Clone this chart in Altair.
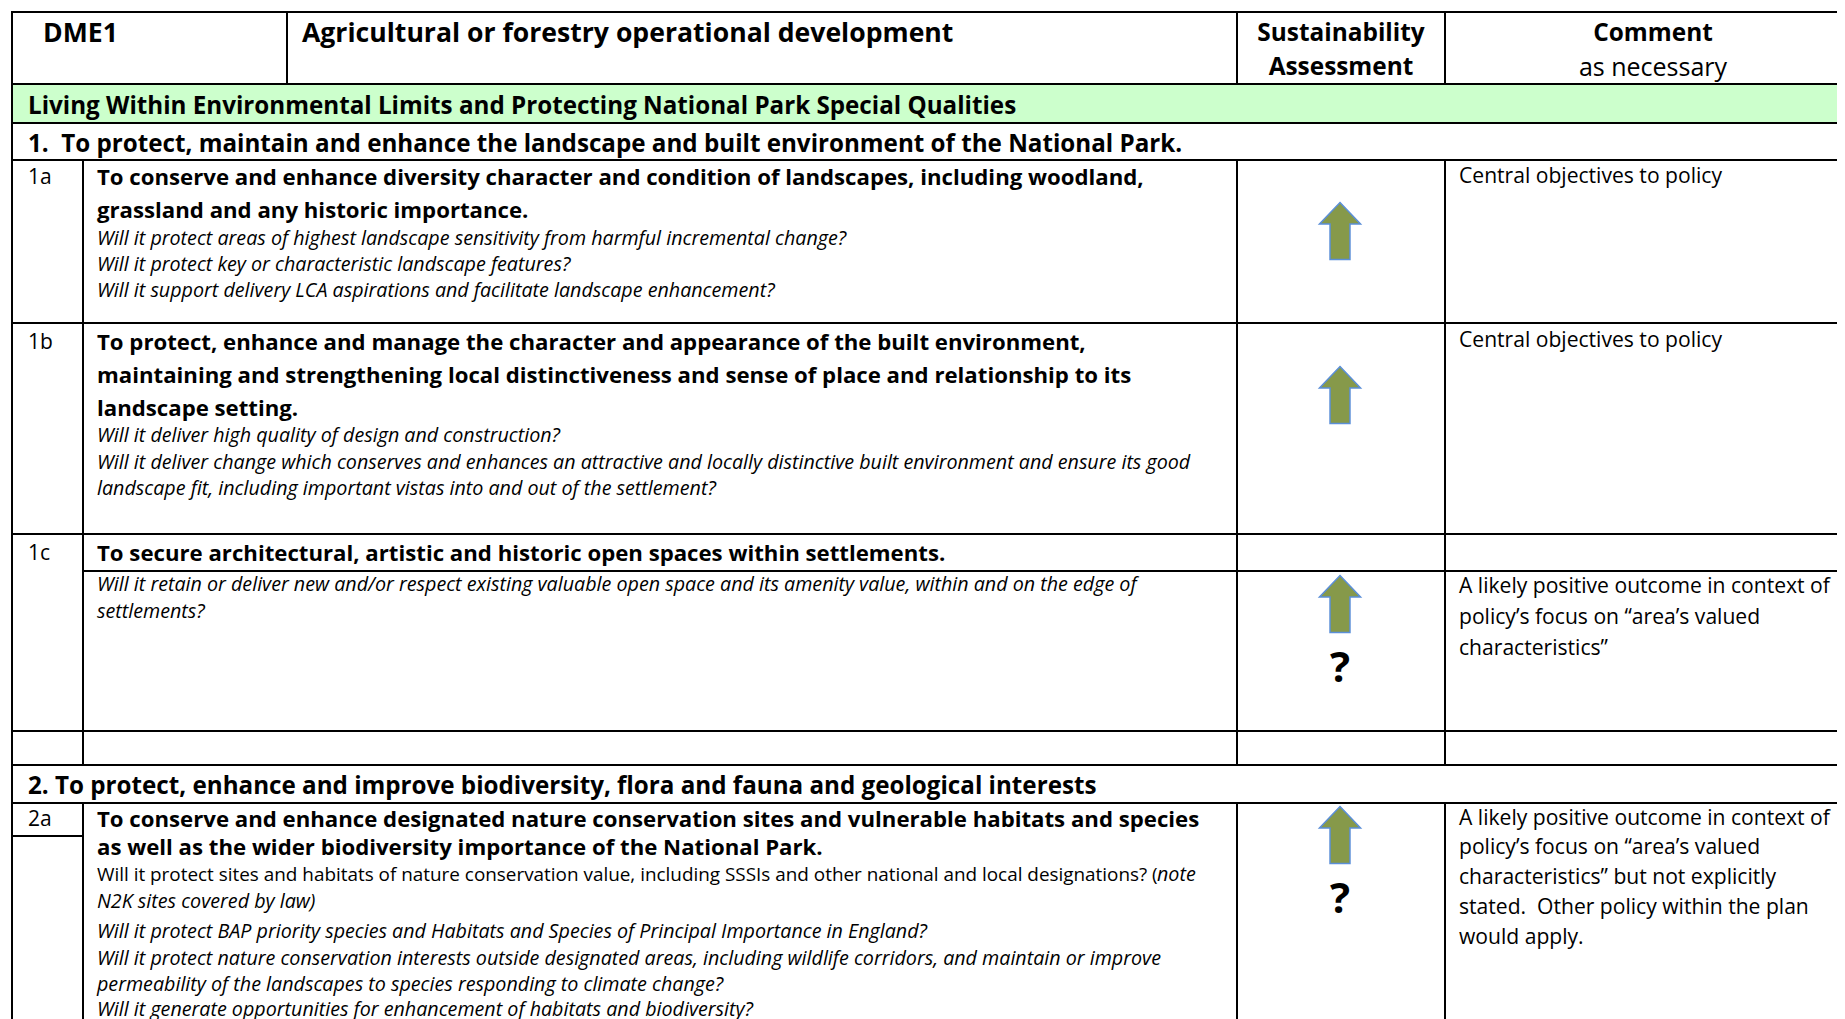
import altair as alt
import pandas as pd

# ------------------------------------------------------------------ content
HEADER_LEFT = ["DME1", "Agricultural or forestry operational development"]
HEADER_SUST = ["Sustainability", "Assessment"]
HEADER_COMMENT = ["Comment", "as necessary"]
BAND_TITLE = "Living Within Environmental Limits and Protecting National Park Special Qualities"
OBJECTIVES = [
    "1.\u00a0 To protect, maintain and enhance the landscape and built environment of the National Park.",
    "2. To protect, enhance and improve biodiversity, flora and fauna and geological interests",
]
ROW_IDS = ["1a", "1b", "1c", "2a"]
TITLES = {
    "1a": ["To conserve and enhance diversity character and condition of landscapes, including woodland,",
           "grassland and any historic importance."],
    "1b": ["To protect, enhance and manage the character and appearance of the built environment,",
           "maintaining and strengthening local distinctiveness and sense of place and relationship to its",
           "landscape setting."],
    "1c": ["To secure architectural, artistic and historic open spaces within settlements."],
    "2a": ["To conserve and enhance designated nature conservation sites and vulnerable habitats and species",
           "as well as the wider biodiversity importance of the National Park."],
}
QUESTIONS = {
    "1a": ["Will it protect areas of highest landscape sensitivity from harmful incremental change?",
           "Will it protect key or characteristic landscape features?",
           "Will it support delivery LCA aspirations and facilitate landscape enhancement?"],
    "1b": ["Will it deliver high quality of design and construction?",
           "Will it deliver change which conserves and enhances an attractive and locally distinctive built environment and ensure its good",
           "landscape fit, including important vistas into and out of the settlement?"],
    "1c": ["Will it retain or deliver new and/or respect existing valuable open space and its amenity value, within and on the edge of",
           "settlements?"],
    "2a": [None,
           "N2K sites covered by law)",
           "Will it protect BAP priority species and Habitats and Species of Principal Importance in England?",
           "Will it protect nature conservation interests outside designated areas, including wildlife corridors, and maintain or improve",
           "permeability of the landscapes to species responding to climate change?",
           "Will it generate opportunities for enhancement of habitats and biodiversity?"],
}
# mixed regular / italic first question line of 2a
MIXED_REGULAR = ["Will it protect sites and habitats of nature conservation value, including SSSIs and other national and local designations? ("]
MIXED_ITALIC = ["note"]
ASSESS_ARROW = ["1a", "1b", "1c", "2a"]
ASSESS_QUERY = ["1c", "2a"]
COMMENTS = {
    "1a": ["Central objectives to policy"],
    "1b": ["Central objectives to policy"],
    "1c": ["A likely positive outcome in context of",
           "policy\u2019s focus on \u201carea\u2019s valued",
           "characteristics\u201d"],
    "2a": ["A likely positive outcome in context of",
           "policy\u2019s focus on \u201carea\u2019s valued",
           "characteristics\u201d but not explicitly",
           "stated.\u00a0 Other policy within the plan",
           "would apply."],
}

# ------------------------------------------------------------------ layout (page pixels)
X_LEFT, X_NUM, X_HDR, X_SUST, X_COMM, X_RIGHT = 12, 83, 287, 1237, 1445, 1862
Y_TOP, Y_HDR, Y_BAND, Y_OBJ1 = 12, 84, 123, 160
Y_1A, Y_1B, Y_1C_SUB, Y_1C, Y_EMPTY, Y_OBJ2, Y_2A_SUB, Y_BOTTOM = 323, 534, 571, 731, 765, 803, 836, 1040
TX_NUM, TX_BODY, TX_COMMENT = 28, 97, 1459
CX_SUST, CX_COMM = 1341, 1653
NUM_Y = {"1a": 178, "1b": 343, "1c": 554, "2a": 820}
TITLE_Y = {"1a": [178, 211], "1b": [343, 376, 409], "1c": [554], "2a": [820, 848]}
QUESTION_Y = {"1a": [239, 265, 291], "1b": [436, 463, 489], "1c": [585, 612],
              "2a": [875, 902, 932, 959, 985, 1010]}
MIXED_REG_POS = [(TX_BODY, 875)]
MIXED_IT_POS = [(1157, 875)]
COMMENT_Y = {"1a": [177], "1b": [341], "1c": [587, 618, 649], "2a": [819, 848, 878, 908, 938]}
ARROW_Y = {"1a": 231, "1b": 395, "1c": 604, "2a": 835}
QUERY_Y = {"1c": 669, "2a": 900}

PAGE_X0, PAGE_Y0 = 8, 8
W, H = 1829, 1011
FONT = "Open Sans"

xs = alt.Scale(domain=[PAGE_X0, PAGE_X0 + W], nice=False, zero=False)
ys = alt.Scale(domain=[PAGE_Y0, PAGE_Y0 + H], nice=False, zero=False, reverse=True)
X = alt.X("x:Q", scale=xs, axis=None)
Y = alt.Y("y:Q", scale=ys, axis=None)

# ------------------------------------------------------------------ frames
band = pd.DataFrame([{"x": X_LEFT, "x2": X_RIGHT, "y": Y_HDR, "y2": Y_BAND}])
hlines = [(X_LEFT, X_RIGHT, y) for y in [Y_TOP, Y_HDR, Y_BAND, Y_OBJ1, Y_1A, Y_1B, Y_1C, Y_EMPTY, Y_OBJ2]]
hlines += [(X_NUM, X_RIGHT, Y_1C_SUB), (X_LEFT, X_NUM, Y_2A_SUB)]
vlines = [(X_LEFT, Y_TOP, Y_BOTTOM), (X_HDR, Y_TOP, Y_HDR)]
for xv in [X_SUST, X_COMM]:
    vlines += [(xv, Y_TOP, Y_HDR), (xv, Y_OBJ1, Y_EMPTY), (xv, Y_OBJ2, Y_BOTTOM)]
vlines += [(X_NUM, Y_OBJ1, Y_EMPTY), (X_NUM, Y_OBJ2, Y_BOTTOM)]
lines = pd.DataFrame([{"x": a, "x2": b, "y": y, "y2": y} for a, b, y in hlines] +
                     [{"x": x, "x2": x, "y": a, "y2": b} for x, a, b in vlines])

hdr_left = pd.DataFrame({"x": [43, 302], "y": [34, 34], "text": HEADER_LEFT})
hdr_center = pd.DataFrame({"x": [CX_SUST, CX_SUST, CX_COMM], "y": [34, 68, 34],
                           "text": [HEADER_SUST[0], HEADER_SUST[1], HEADER_COMMENT[0]]})
hdr_reg = pd.DataFrame({"x": [CX_COMM], "y": [68], "text": [HEADER_COMMENT[1]]})

sect_df = pd.DataFrame([{"x": 28, "y": 107, "text": BAND_TITLE},
                        {"x": 28, "y": 145, "text": OBJECTIVES[0]},
                        {"x": 28, "y": 787, "text": OBJECTIVES[1]}])
bold_rows = []
for rid in ROW_IDS:
    for t, y in zip(TITLES[rid], TITLE_Y[rid]):
        bold_rows.append({"x": TX_BODY, "y": y, "text": t})
bold_df = pd.DataFrame(bold_rows)

num_df = pd.DataFrame({"x": [TX_NUM] * len(ROW_IDS), "y": [NUM_Y[r] for r in ROW_IDS], "text": ROW_IDS})

ital_rows = []
for rid in ROW_IDS:
    for t, y in zip(QUESTIONS[rid], QUESTION_Y[rid]):
        if t:
            ital_rows.append({"x": TX_BODY, "y": y, "text": t})
for t, (x, y) in zip(MIXED_ITALIC, MIXED_IT_POS):
    ital_rows.append({"x": x, "y": y, "text": t})
ital_df = pd.DataFrame(ital_rows)
mixreg_df = pd.DataFrame([{"x": x, "y": y, "text": t} for t, (x, y) in zip(MIXED_REGULAR, MIXED_REG_POS)])

com_rows = []
for rid in ROW_IDS:
    for t, y in zip(COMMENTS[rid], COMMENT_Y[rid]):
        com_rows.append({"x": TX_COMMENT, "y": y, "text": t})
com_df = pd.DataFrame(com_rows)

arrow_df = pd.DataFrame({"x": [1340] * len(ASSESS_ARROW), "y": [ARROW_Y[r] for r in ASSESS_ARROW]})
query_df = pd.DataFrame({"x": [1340] * len(ASSESS_QUERY), "y": [QUERY_Y[r] for r in ASSESS_QUERY],
                         "text": ["?"] * len(ASSESS_QUERY)})

ARROW_PATH = "M0,-1 L0.72,-0.25 L0.35,-0.25 L0.35,1 L-0.35,1 L-0.35,-0.25 L-0.72,-0.25 Z"


def text_layer(df, **kw):
    base = dict(font=FONT, baseline="middle", color="black")
    base.update(kw)
    return alt.Chart(df).mark_text(**base).encode(x=X, y=Y, text="text:N")


layers = [
    alt.Chart(band).mark_rect(color="#CCFFCC", clip=True).encode(x=X, x2="x2:Q", y=Y, y2="y2:Q"),
    alt.Chart(lines).mark_rule(color="black", strokeWidth=2, strokeCap="square", clip=True).encode(
        x=X, x2="x2:Q", y=Y, y2="y2:Q"),
    text_layer(hdr_left, fontSize=26.6, fontWeight="bold", align="left"),
    text_layer(hdr_center, fontSize=24.4, fontWeight="bold", align="center"),
    text_layer(hdr_reg, fontSize=25, align="center"),
    text_layer(sect_df, fontSize=24.2, fontWeight="bold", align="left"),
    text_layer(bold_df, fontSize=22.2, fontWeight="bold", align="left"),
    text_layer(num_df, fontSize=21, align="left"),
    text_layer(ital_df, fontSize=19.7, fontStyle="italic", align="left"),
    text_layer(mixreg_df, fontSize=18.9, align="left"),
    text_layer(com_df, fontSize=21.1, align="left"),
    alt.Chart(arrow_df).mark_point(shape=ARROW_PATH, filled=True, fill="#86994A", stroke="#5B8FD8",
                                   strokeWidth=1.5, size=3249, opacity=1).encode(x=X, y=Y),
    text_layer(query_df, fontSize=42, fontWeight="bold", align="center"),
]

chart = alt.layer(*layers).properties(
    width=W, height=H, padding=0, background="white",
    autosize=alt.AutoSizeParams(type="none")).configure_view(strokeWidth=0)

chart.save("out.html", embed_options={"renderer": "svg", "actions": False})
